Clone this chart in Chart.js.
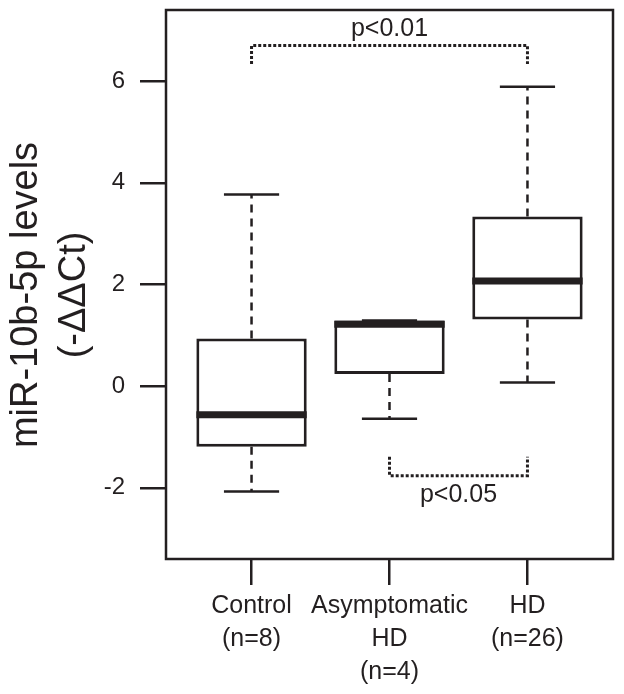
<!DOCTYPE html>
<html>
<head>
<meta charset="utf-8">
<script src="https://cdn.jsdelivr.net/npm/chart.js@4.4.0/dist/chart.umd.min.js"></script>
<style>
html, body { margin: 0; padding: 0; background: #fff; }
#wrap { width: 624px; height: 694px; }
</style>
</head>
<body>
<div id="wrap"><canvas id="boxChart" width="624" height="694"></canvas></div>
<script>
// groups and their box statistics
const groups = [['Control', '(n=8)'], ['Asymptomatic', 'HD', '(n=4)'], ['HD', '(n=26)']]
const groupPos = [1, 2, 3]
const lowWhisker = [-2.07, -0.64, 0.07]
const q1 = [-1.19, 0.24, 1.31]
const median = [-0.56, 1.22, 2.07]
const q3 = [0.94, 1.29, 3.34]
const highWhisker = [3.77, 1.29, 5.89]
const yTicks = [-2, 0, 2, 4, 6]

// significance brackets
const bracketFrom = [1, 2]
const bracketTo = [3, 3]
const bracketLevel = [6.7, -1.76]
const bracketTip = [6.34, -1.39]
const pLabels = ['p<0.01', 'p<0.05']
const pLabelY = [6.88, -2.27]

const ink = '#231f20'
const fontName = '"Liberation Sans", Arial, sans-serif'

const boxPlugin = {
    id: 'boxParts',
    afterDatasetsDraw(chart) {
        const {ctx, scales: {x, y}} = chart
        const px = v => x.getPixelForValue(v)
        const py = v => y.getPixelForValue(v)
        ctx.save()
        ctx.strokeStyle = ink
        groupPos.forEach((g, i) => {
            // whiskers
            ctx.lineWidth = 2.5
            ctx.setLineDash([8, 6])
            ctx.beginPath()
            if (highWhisker[i] > q3[i]) {
                ctx.moveTo(px(g), py(q3[i]))
                ctx.lineTo(px(g), py(highWhisker[i]))
            }
            ctx.moveTo(px(g), py(q1[i]))
            ctx.lineTo(px(g), py(lowWhisker[i]))
            ctx.stroke()
            // caps
            ctx.setLineDash([])
            ctx.beginPath()
            ctx.moveTo(px(g - 0.2), py(highWhisker[i]))
            ctx.lineTo(px(g + 0.2), py(highWhisker[i]))
            ctx.moveTo(px(g - 0.2), py(lowWhisker[i]))
            ctx.lineTo(px(g + 0.2), py(lowWhisker[i]))
            ctx.stroke()
            // median
            ctx.lineWidth = 7
            ctx.beginPath()
            ctx.moveTo(px(g - 0.4), py(median[i]))
            ctx.lineTo(px(g + 0.4), py(median[i]))
            ctx.stroke()
        })
        // brackets
        ctx.lineWidth = 3
        ctx.setLineDash([3, 2])
        bracketFrom.forEach((f, i) => {
            ctx.beginPath()
            ctx.moveTo(px(f), py(bracketTip[i]))
            ctx.lineTo(px(f), py(bracketLevel[i]))
            ctx.lineTo(px(bracketTo[i]), py(bracketLevel[i]))
            ctx.lineTo(px(bracketTo[i]), py(bracketTip[i]))
            ctx.stroke()
        })
        ctx.setLineDash([])
        ctx.fillStyle = ink
        ctx.font = '25px ' + fontName
        ctx.textAlign = 'center'
        ctx.textBaseline = 'alphabetic'
        pLabels.forEach((t, i) => {
            ctx.fillText(t, px((bracketFrom[i] + bracketTo[i]) / 2), py(pLabelY[i]))
        })
        ctx.restore()
    },
    afterDraw(chart) {
        const {ctx, chartArea: a} = chart
        ctx.save()
        ctx.strokeStyle = ink
        ctx.lineWidth = 2.5
        ctx.strokeRect(a.left, a.top, a.right - a.left, a.bottom - a.top)
        // y axis title, two lines
        ctx.fillStyle = ink
        ctx.font = '38px ' + fontName
        ctx.textAlign = 'center'
        ctx.textBaseline = 'alphabetic'
        ctx.translate(0, 295)
        ctx.rotate(-Math.PI / 2)
        ctx.fillText('miR-10b-5p levels', 0, 37)
        ctx.fillText('(-ΔΔCt)', 0, 85)
        ctx.restore()
    }
}

new Chart(document.getElementById('boxChart'), {
    type: 'bar',
    data: {
        datasets: [{
            data: groupPos.map((g, i) => ({x: g, y: [q1[i], q3[i]]})),
            backgroundColor: '#fff',
            borderColor: ink,
            borderWidth: 3,
            borderSkipped: false,
            barPercentage: 1,
            categoryPercentage: 0.8
        }]
    },
    options: {
        responsive: false,
        animation: false,
        layout: {padding: {left: 0, top: 10, right: 11, bottom: 0}},
        plugins: {legend: {display: false}, tooltip: {enabled: false}},
        scales: {
            x: {
                type: 'linear',
                min: 0.38,
                max: 3.62,
                offset: false,
                afterBuildTicks: scale => { scale.ticks = groupPos.map(v => ({value: v})) },
                afterFit: scale => {
                    scale.height = 135
                    scale.paddingLeft = 0
                    scale.paddingRight = 0
                },
                border: {display: false},
                grid: {offset: false, drawOnChartArea: false, drawTicks: true, tickLength: 26, color: ink, lineWidth: 2.5},
                ticks: {
                    autoSkip: false,
                    maxRotation: 0,
                    padding: 5,
                    color: ink,
                    font: {family: fontName, size: 25, lineHeight: 1.32},
                    callback: v => groups[groupPos.indexOf(v)]
                }
            },
            y: {
                min: -3.4,
                max: 7.4,
                afterBuildTicks: scale => { scale.ticks = yTicks.map(v => ({value: v})) },
                afterFit: scale => {
                    scale.width = 166
                    scale.paddingTop = 0
                    scale.paddingBottom = 0
                },
                border: {display: false},
                grid: {drawOnChartArea: false, drawTicks: true, tickLength: 26, color: ink, lineWidth: 2.5},
                ticks: {
                    padding: 15,
                    color: ink,
                    font: {family: fontName, size: 24},
                    callback: v => String(v)
                }
            }
        }
    },
    plugins: [boxPlugin]
});
</script>
</body>
</html>
